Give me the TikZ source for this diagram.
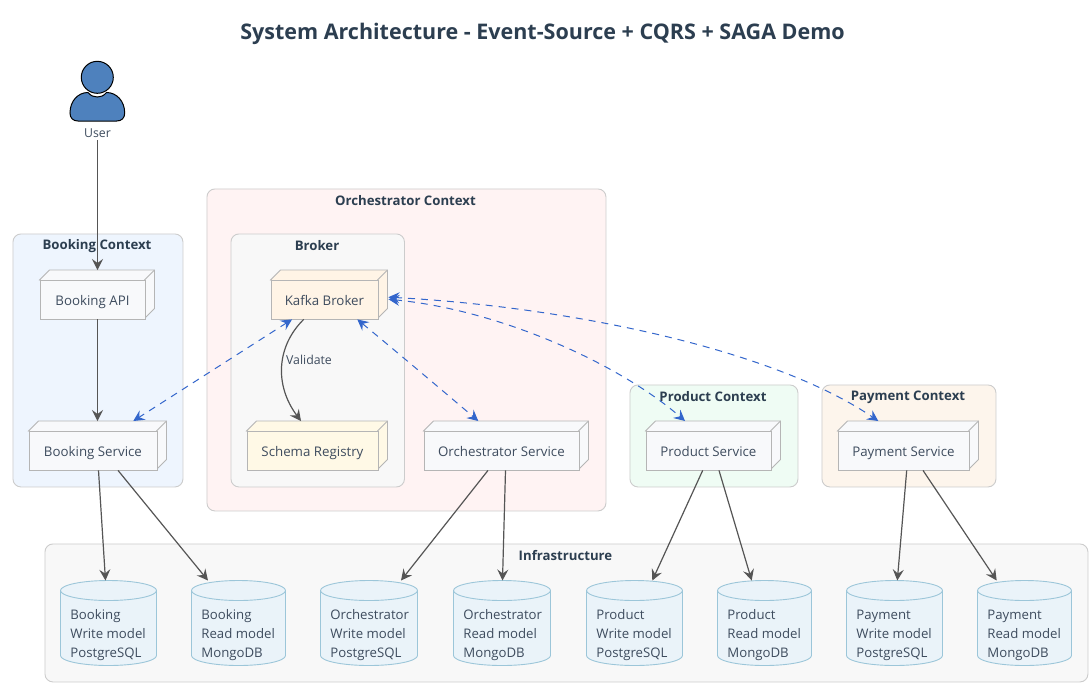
\documentclass[tikz,border=0pt]{standalone}
\usepackage{fontspec}
\setmainfont{Open Sans}
\usetikzlibrary{arrows.meta,calc}
\definecolor{ink}{HTML}{2C3E50}
\definecolor{txt}{HTML}{3E4C5E}
\definecolor{edgeg}{HTML}{555555}
\definecolor{dashb}{HTML}{3366CC}
\definecolor{boxl}{HTML}{B5B5B5}
\definecolor{grpl}{HTML}{CCCCCC}
\definecolor{cyll}{HTML}{9CC6D9}
\definecolor{cylf}{HTML}{EAF3F9}
\definecolor{nodef}{HTML}{F8F9FB}
\definecolor{gbook}{HTML}{EEF5FE}
\definecolor{gorch}{HTML}{FFF3F3}
\definecolor{gbrok}{HTML}{F8F8F8}
\definecolor{gprod}{HTML}{EFFCF4}
\definecolor{gpay}{HTML}{FDF5EC}
\definecolor{kafkaf}{HTML}{FFF4E6}
\definecolor{schemaf}{HTML}{FFF9E6}
\definecolor{userf}{HTML}{4E81BD}
\tikzset{
  grpbox/.style={draw=grpl,line width=.9pt,rounded corners=8pt,fill=#1,inner sep=0pt,anchor=north west},
  grplab/.style={text=ink,font=\fontsize{13.2}{15}\selectfont\bfseries,inner sep=0pt},
  cubebox/.style={draw=boxl,line width=.9pt,fill=#1,inner sep=0pt,text=txt,font=\fontsize{13.3}{15}\selectfont,anchor=north west,text height=14pt,text depth=3pt},
  txtlab/.style={text=txt,font=\fontsize{12.3}{15}\selectfont,inner sep=0pt},
  cyltext/.style={text=txt,font=\fontsize{13.2}{19}\selectfont,inner sep=0pt,align=left,anchor=west},
  cylbox/.style={inner sep=0pt,anchor=north west},
  solidarrow/.style={draw=edgeg,line width=1.2pt,-{Stealth[length=11pt,width=11pt,inset=4pt]}},
  dasharrow/.style={draw=dashb,line width=1pt,dash pattern=on 7pt off 6pt,{Stealth[length=11pt,width=11pt,inset=4pt,fill=dashb,sep=0pt]}-{Stealth[length=11pt,width=11pt,inset=4pt,fill=dashb]}},
}
% name, left, top, width, height, fill, label, label centre x, label centre y
\newcommand{\groupnode}[9]{%
  \node[grpbox=#6,minimum width=#4pt,minimum height=#5pt] (#1) at (#2,#3) {};
  \node[grplab] (#1lab) at (#8,#9) {#7};
}
% name, left, top, width, fill, text
\newcommand{\cubenode}[6]{%
  \filldraw[draw=boxl,line width=.9pt,fill=#5] (#2,#3) -- ++(10,-10) -- ++(#4,0) -- ++(0,38.5) -- ++(-10,10) -- cycle;
  \draw[boxl,line width=.9pt] (#2+#4,#3) -- ++(10,-10);
  \node[cubebox=#5,minimum width=#4pt,minimum height=38.5pt] (#1) at (#2,#3) {#6};
}
% name, left, width, text
\newcommand{\cylnode}[4]{%
  \filldraw[draw=cyll,line width=.9pt,fill=cylf] (#2,590.5) arc[start angle=180,end angle=360,x radius=#3/2,y radius=10] -- ++(0,65) arc[start angle=0,end angle=180,x radius=#3/2,y radius=10] -- cycle;
  \draw[cyll,line width=.9pt] (#2,590.5) arc[start angle=180,end angle=0,x radius=#3/2,y radius=10];
  \node[cylbox,minimum width=#3pt,minimum height=85pt] (#1) at (#2,580.5) {};
  \node[cyltext] (#1t) at (#2+9.7,635.3) {#4};
}
\begin{document}
\begin{tikzpicture}[x=1pt,y=-1pt]
\useasboundingbox (0,0) rectangle (1092,686);
\fill[white] (0,0) rectangle (1092,686);
\node[text=ink,font=\fontsize{21.5}{24}\selectfont\bfseries,inner sep=0pt] (title) at (542.5,33.7) {System Architecture - Event-Source + CQRS + SAGA Demo};
% groups
\groupnode{gbooking}{12.5}{233.5}{170}{253}{gbook}{Booking Context}{97}{245.8}
\groupnode{gorchestrator}{206.5}{188.5}{399}{322}{gorch}{Orchestrator Context}{405.5}{200.8}
\groupnode{gbroker}{230.5}{233.5}{173.5}{253}{gbrok}{Broker}{317}{245.8}
\groupnode{gproduct}{629.5}{384.5}{168}{102}{gprod}{Product Context}{713}{396.8}
\groupnode{gpayment}{821.5}{384.5}{174}{102}{gpay}{Payment Context}{908}{396.8}
\groupnode{ginfra}{44.5}{543.5}{1043}{138}{gbrok}{Infrastructure}{565.5}{555.8}
% user
\filldraw[draw=black,line width=1pt,fill=userf] (97.3,77.3) circle[radius=16];
\filldraw[draw=black,line width=1pt,fill=userf] (78,121) .. controls (73,121) and (70,118) .. (70,113) .. controls (70,101) and (78,92.5) .. (88,92.5) .. controls (91,96) and (94,97) .. (97.3,97) .. controls (100.6,97) and (103.6,96) .. (106.5,92.5) .. controls (116.5,92.5) and (124.7,101) .. (124.7,113) .. controls (124.7,118) and (121.7,121) .. (116.7,121) -- cycle;
\node[txtlab] (user) at (97.5,133) {User};
% cubes
\cubenode{api}{39.5}{280}{105}{nodef}{Booking API}
\cubenode{bsvc}{28.5}{431}{128}{nodef}{Booking Service}
\cubenode{kafka}{270.5}{280}{107}{kafkaf}{Kafka Broker}
\cubenode{schema}{246.5}{431}{131}{schemaf}{Schema Registry}
\cubenode{osvc}{423.5}{431}{155}{nodef}{Orchestrator Service}
\cubenode{psvc}{645.5}{431}{125}{nodef}{Product Service}
\cubenode{paysvc}{837.5}{431}{131}{nodef}{Payment Service}
% cylinders
\cylnode{bw}{60.5}{96}{Booking\\Write model\\PostgreSQL}
\cylnode{br}{191.5}{94}{Booking\\Read model\\MongoDB}
\cylnode{ow}{320.5}{97}{Orchestrator\\Write model\\PostgreSQL}
\cylnode{or}{453.5}{97}{Orchestrator\\Read model\\MongoDB}
\cylnode{pw}{586.5}{96}{Product\\Write model\\PostgreSQL}
\cylnode{pr}{717.5}{94}{Product\\Read model\\MongoDB}
\cylnode{payw}{846.5}{96}{Payment\\Write model\\PostgreSQL}
\cylnode{payr}{977.5}{94}{Payment\\Read model\\MongoDB}
% solid connectors
\draw[solidarrow] ([yshift=-2.5pt]user.south) -- ([shift={(58,-10)}]api.north west);
\draw[solidarrow] ([xshift=58pt]api.south west) -- ([shift={(69,-10)}]bsvc.north west);
\draw[solidarrow] ([xshift=70pt]bsvc.south west) -- ([xshift=45pt]bw.north west);
\draw[solidarrow] ([xshift=89.5pt]bsvc.south west) -- ([xshift=16.5pt]br.north west);
\draw[solidarrow] ([xshift=64.5pt]osvc.south west) -- ([xshift=80.5pt]ow.north west);
\draw[solidarrow] ([xshift=82pt]osvc.south west) -- ([xshift=49pt]or.north west);
\draw[solidarrow] ([xshift=57.2pt]psvc.south west) -- ([xshift=65.8pt]pw.north west);
\draw[solidarrow] ([xshift=73.5pt]psvc.south west) -- ([xshift=34.2pt]pr.north west);
\draw[solidarrow] ([xshift=69.2pt]paysvc.south west) -- ([xshift=50.8pt]payw.north west);
\draw[solidarrow] ([xshift=85.5pt]paysvc.south west) -- ([xshift=19.2pt]payr.north west);
\draw[solidarrow] ([xshift=33.2pt]kafka.south west) .. controls +(-27,26.5) and +(-27,-36) .. ([shift={(54.5,-10)}]schema.north west);
\node[txtlab] (validate) at (309,360) {Validate};
% dashed connectors
\draw[dasharrow] ([xshift=21.5pt]kafka.south west) -- ([shift={(104.8,-10)}]bsvc.north west);
\draw[dasharrow] ([xshift=86.8pt]kafka.south west) .. controls +(40,33) and +(-40,-34) .. ([shift={(54.8,-10)}]osvc.north west);
\draw[dasharrow] ([shift={(10,-0.5)}]kafka.east) .. controls +(113,11) and +(-65,-56.5) .. ([shift={(39.5,-10)}]psvc.north west);
\draw[dasharrow] ([shift={(10,-2.5)}]kafka.east) .. controls +(173,9) and +(-108,-73.5) .. ([shift={(40.8,-10)}]paysvc.north west);
\end{tikzpicture}
\end{document}
